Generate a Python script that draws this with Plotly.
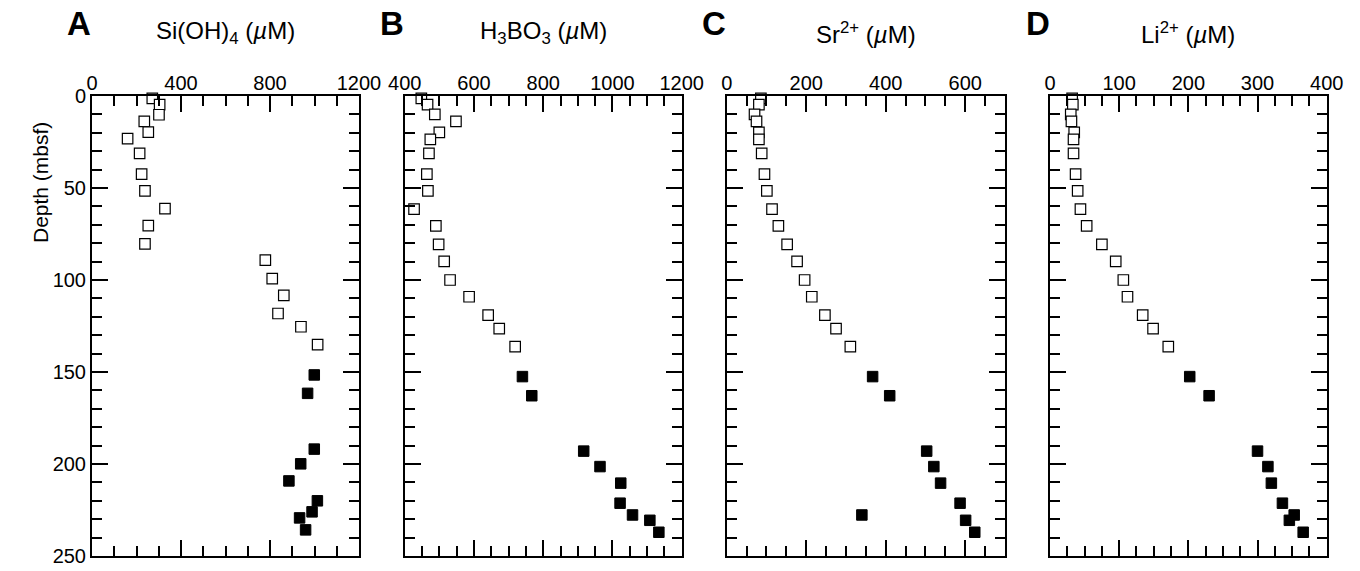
import plotly.graph_objects as go

W, H = 1360, 571

# ---------------- data ----------------
# Panel A: Si(OH)4
depth_A_open = [1.3, 4.7, 10.2, 13.8, 19.6, 23.2, 31.2, 42.5, 51.6, 61.2, 70.4, 80.4,
                89.2, 99.3, 108.4, 118.2, 125.4, 135.1]
si_open = [271, 304, 301, 235, 253, 160, 214, 223, 238, 328, 253, 238,
           779, 810, 862, 836, 939, 1014]
depth_A_filled = [151.6, 161.6, 191.9, 199.9, 209.2, 220.0, 226.0, 229.3, 235.8]
si_filled = [999, 969, 999, 938, 885, 1013, 989, 933, 960]

# Panels B-D share sample depths
depth_open = [1.3, 4.7, 10.0, 13.8, 19.8, 23.6, 31.2, 42.5, 51.6, 61.5, 70.6, 80.6,
              89.9, 100.0, 109.1, 119.1, 126.4, 136.2]
depth_filled = [152.5, 162.9, 193.0, 201.4, 210.4, 221.3, 227.7, 230.6, 237.1]

# Panel B: H3BO3
b_open = [448, 466, 487, 548, 500, 474, 470, 464, 467, 427, 490, 498,
          514, 531, 586, 641, 673, 719]
b_filled = [740, 767, 917, 964, 1024, 1022, 1058, 1108, 1134]

# Panel C: Sr2+
sr_open = [86, 81, 70, 75, 81, 81, 88, 95, 101, 114, 130, 152,
           177, 196, 214, 247, 275, 311]
sr_filled = [367, 410, 503, 521, 538, 587, 340, 601, 624]

# Panel D: Li2+
li_open = [32, 33, 30, 31, 35, 34, 34, 37, 40, 44, 53, 75,
           95, 106, 112, 134, 149, 171]
li_filled = [202, 230, 300, 315, 320, 336, 353, 346, 366]

titles = ["Si(OH)<sub>4</sub> (<i>µ</i>M)", "H<sub>3</sub>BO<sub>3</sub> (<i>µ</i>M)",
          "Sr<sup>2+</sup> (<i>µ</i>M)", "Li<sup>2+</sup> (<i>µ</i>M)"]
letters = ["A", "B", "C", "D"]
x_ranges = [[0, 1200], [400, 1200], [0, 700], [0, 400]]
x_major = [400, 200, 200, 100]
x_minor = [100, 50, 50, 25]
y_range = [250, 0]
y_ticks = [0, 50, 100, 150, 200, 250]

# ---------------- layout geometry (pixels) ----------------
panel_px = [(92, 359), (404.7, 681.7), (726.7, 1005), (1050, 1326.7)]
top_px, bot_px = 96, 556
letter_x_px = [79, 392, 714, 1038]

def fx(px):
    return px / W

def fy(py):
    return 1 - py / H

series = [
    (depth_A_open, si_open, depth_A_filled, si_filled),
    (depth_open, b_open, depth_filled, b_filled),
    (depth_open, sr_open, depth_filled, sr_filled),
    (depth_open, li_open, depth_filled, li_filled),
]

fig = go.Figure()
FONT = "Liberation Sans, Arial, Helvetica, sans-serif"
layout = dict(
    width=W, height=H, autosize=False,
    margin=dict(l=0, r=0, t=0, b=0, pad=0, autoexpand=False),
    paper_bgcolor="white", plot_bgcolor="white",
    showlegend=False,
    font=dict(family=FONT, size=20, color="black"),
)
annotations = []
for i, (d_o, v_o, d_f, v_f) in enumerate(series):
    n = "" if i == 0 else str(i + 1)
    xa, ya = "x" + n, "y" + n
    fig.add_trace(go.Scatter(
        x=v_o, y=d_o, mode="markers", xaxis=xa, yaxis=ya,
        marker=dict(symbol="square", size=10.5, color="white",
                    line=dict(color="black", width=1.2)),
        cliponaxis=False))
    fig.add_trace(go.Scatter(
        x=v_f, y=d_f, mode="markers", xaxis=xa, yaxis=ya,
        marker=dict(symbol="square", size=10.5, color="black",
                    line=dict(color="black", width=1)),
        cliponaxis=False))
    x0, x1 = panel_px[i]
    layout["xaxis" + n] = dict(
        domain=[fx(x0), fx(x1)], range=x_ranges[i], anchor=ya, side="top",
        tick0=x_ranges[i][0], dtick=x_major[i], ticks="inside", ticklen=16,
        tickwidth=2, tickcolor="black", mirror="allticks", showline=True,
        linewidth=2, linecolor="black", showgrid=False, zeroline=False,
        ticklabelstandoff=-4, automargin=False,
        tickfont=dict(family=FONT, size=20, color="black"),
        minor=dict(dtick=x_minor[i], tick0=x_ranges[i][0], ticks="inside",
                   ticklen=10, tickwidth=2, tickcolor="black", showgrid=False),
        fixedrange=True,
    )
    layout["yaxis" + n] = dict(
        domain=[fy(bot_px), fy(top_px)], range=y_range, anchor=xa,
        tickvals=y_ticks, ticks="inside", ticklen=16, tickwidth=2,
        tickcolor="black", mirror="allticks", showline=True, linewidth=2,
        linecolor="black", showgrid=False, zeroline=False,
        showticklabels=(i == 0), automargin=False,
        tickfont=dict(family=FONT, size=20, color="black"),
        minor=dict(dtick=10, tick0=0, ticks="inside", ticklen=10, tickwidth=2,
                   tickcolor="black", showgrid=False),
        fixedrange=True,
    )
    annotations.append(dict(
        x=fx((x0 + x1) / 2), y=fy(33), xref="paper", yref="paper",
        text=titles[i], showarrow=False, xanchor="center", yanchor="middle",
        font=dict(family=FONT, size=24, color="black")))
    annotations.append(dict(
        x=fx(letter_x_px[i]), y=fy(24), xref="paper", yref="paper",
        text="<b>" + letters[i] + "</b>", showarrow=False, xanchor="center",
        yanchor="middle", font=dict(family=FONT, size=33, color="black")))

annotations.append(dict(
    x=fx(40), y=fy(183), xref="paper", yref="paper", text="Depth (mbsf)",
    textangle=-90, showarrow=False, xanchor="center", yanchor="middle",
    font=dict(family=FONT, size=21, color="black")))
layout["annotations"] = annotations
fig.update_layout(**layout)
fig.write_html("out.html")
